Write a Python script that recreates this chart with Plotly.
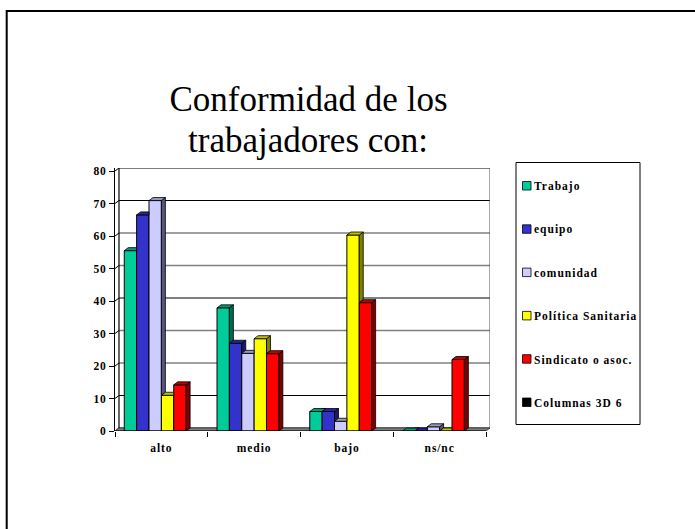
import plotly.graph_objects as go

categories = ["alto", "medio", "bajo", "ns/nc"]
names = ["Trabajo", "equipo", "comunidad", "Política Sanitaria", "Sindicato o asoc.", "Columnas 3D 6"]
trabajo = [55.5, 37.9, 6, 0]
equipo = [66.5, 27, 6, 0]
comunidad = [70.9, 23.9, 3, 1.3]
politica = [11, 28.4, 60.3, 0]
sindicato = [14.2, 23.8, 39.5, 22]
columnas = [None, None, None, None]
series = [trabajo, equipo, comunidad, politica, sindicato, columnas]
title_line_1 = "Conformidad de los"
title_line_2 = "trabajadores con:"
y_ticks = [0, 10, 20, 30, 40, 50, 60, 70, 80]

front = ["#00CC99", "#3333CC", "#CCCCFF", "#FFFF00", "#FF0000", "#000000"]
top = ["#009973", "#262699", "#9999BF", "#BFBF00", "#BF0000", "#000000"]
side = ["#006B50", "#1A1A66", "#555580", "#808000", "#800000", "#000000"]
grid_col = ["#000000", "#000000", "#808080", "#808080", "#000000", "#808080", "#808080", "#000000", "#000000"]

W, H = 695, 529
L, R, T, B = 115, 490, 168, 431
PX_Y = 3.25
PX_X = 92.75
DX, DY = 4 / PX_X, 3 / PX_Y
X0, X1 = -0.5, 3.5
BARGAP = 0.2
N = len(series)
BW = (1 - BARGAP) / N


def px(x, y):
    return dict(xref="paper", yref="paper", x=(x - L) / (R - L), y=(B - y) / (B - T))


def paper_rect(x0, y0, x1, y1, **kw):
    return dict(type="rect", xref="paper", yref="paper",
                x0=(x0 - L) / (R - L), x1=(x1 - L) / (R - L),
                y0=(B - y0) / (B - T), y1=(B - y1) / (B - T), **kw)


def poly(xs, ys, fill):
    return go.Scatter(x=xs + xs[:1], y=ys + ys[:1], mode="lines", fill="toself", fillcolor=fill,
                      line=dict(color="#000000", width=0.8), hoverinfo="skip",
                      showlegend=False, cliponaxis=False)


fig = go.Figure()

# 3D box: walls, floor and gridlines sit under the bars
shapes = []
for v, c in zip(y_ticks, grid_col):
    shapes.append(dict(type="line", xref="x", yref="y", layer="below",
                       x0=X0 + DX, x1=X1 + DX, y0=v + DY, y1=v + DY,
                       line=dict(color=c, width=1.4 if c != "#000000" else 1)))
    shapes.append(dict(type="line", xref="x", yref="y", layer="below",
                       x0=X0, x1=X0 + DX, y0=v, y1=v + DY,
                       line=dict(color="#000000", width=1)))
shapes.append(dict(type="path", xref="x", yref="y", layer="below",
                   path=f"M{X0},0 L{X0 + DX},{DY} L{X1 + DX},{DY} L{X1},0 Z",
                   fillcolor="#808080", line=dict(color="#333333", width=0.8)))
shapes.append(dict(type="line", xref="x", yref="y", layer="below",
                   x0=X0 + DX, x1=X0 + DX, y0=DY, y1=80 + DY, line=dict(color="#000000", width=1.2)))
shapes.append(dict(type="line", xref="x", yref="y", layer="below",
                   x0=X1 + DX, x1=X1 + DX, y0=DY, y1=80 + DY, line=dict(color="#555555", width=1)))

# Front faces
for name, vals, col in zip(names, series, front):
    fig.add_trace(go.Bar(x=list(range(len(categories))), y=vals, name=name, marker_color=col,
                         marker_line=dict(color="#000000", width=1), showlegend=False))

# Side and top faces, in painter's order
for s, vals in enumerate(series[:-1]):
    nxt = series[s + 1]
    for c, v in enumerate(vals):
        left = c - 0.5 + BARGAP / 2 + s * BW
        right = left + BW
        n = nxt[c] if nxt[c] is not None else 0
        if n < v + DY:
            low = max(n, 0)
            if low < v:
                fig.add_trace(poly([right, right + DX, right + DX, right],
                                   [v, v + DY, low + DY if low > 0 else DY, low], side[s]))
            else:
                fig.add_trace(poly([right, right + DX, right], [v, v + DY, v + DY], side[s]))
            fig.add_trace(poly([left, left + DX, right + DX, right], [v, v + DY, v + DY, v], top[s]))
        else:
            fig.add_trace(poly([left, left + DX, right, right], [v, v + DY, v + DY, v], top[s]))

# Outer frame and legend box built from the same series names and colours
shapes.append(paper_rect(6.7, 11, W + 20, H + 20, line=dict(color="#000000", width=2), layer="below"))
shapes.append(paper_rect(516, 162.5, 640, 424.5, line=dict(color="#000000", width=1), fillcolor="#FFFFFF"))
annotations = []
LEG_Y0, LEG_STEP = 185.5, 43.3
for i, (name, col) in enumerate(zip(names, front)):
    yc = LEG_Y0 + i * LEG_STEP
    shapes.append(paper_rect(522.5, yc - 4, 531, yc + 4.5, fillcolor=col, line=dict(color="#000000", width=0.8)))
    annotations.append(dict(text=f"<b>{name}</b>", showarrow=False, xanchor="left", yanchor="middle", align="left",
                            font=dict(family="Liberation Serif", size=11.5, color="#000000"),
                            **px(532, yc + 1)))
annotations.append(dict(text=title_line_2, showarrow=False, xanchor="center", yanchor="middle",
                        font=dict(family="Liberation Serif", size=35, color="#000000"),
                        **px(308, 140)))

fig.update_layout(
    width=W, height=H, autosize=False,
    margin=dict(l=L, r=W - R, t=T, b=H - B, pad=0),
    paper_bgcolor="#FFFFFF", plot_bgcolor="#FFFFFF",
    barmode="group", bargap=BARGAP, bargroupgap=0,
    showlegend=False,
    title=dict(text=title_line_1, x=308.5 / W, xanchor="center",
               y=1 - 99 / H, yanchor="middle",
               font=dict(family="Liberation Serif", size=35, color="#000000")),
    font=dict(family="Liberation Serif", color="#000000"),
    shapes=shapes, annotations=annotations,
    xaxis=dict(type="linear", range=[X0, X1 + DX], tickmode="array", tickvals=list(range(4)),
               ticktext=[f"<b>{c}</b>" for c in categories], ticks="", showgrid=False, zeroline=False,
               showline=False, ticklabelstandoff=8,
               minor=dict(tickmode="array", tickvals=[X0 + b for b in range(5)], ticks="outside",
                          ticklen=5, tickwidth=1, tickcolor="#000000", showgrid=False),
               tickfont=dict(size=11.5, family="Liberation Serif"), fixedrange=True),
    yaxis=dict(range=[0, (B - T) / PX_Y], tickmode="array", tickvals=y_ticks,
               ticktext=[f"<b>{v}</b>" for v in y_ticks], ticks="outside", ticklen=5, tickwidth=1,
               tickcolor="#000000", showgrid=False, zeroline=False, showline=True,
               linecolor="#000000", linewidth=1, tickfont=dict(size=11.5, family="Liberation Serif")),
)
# Front edge of the floor
fig.add_trace(go.Scatter(x=[X0, X1], y=[0, 0], mode="lines", line=dict(color="#000000", width=1),
                         hoverinfo="skip", showlegend=False, cliponaxis=False))

page_setup = """
document.body.style.margin = '0';
document.querySelectorAll('.xtick text, .ytick text').forEach(function (t) {
  t.style.letterSpacing = '0.9px';
});
document.querySelectorAll('.annotation-text').forEach(function (t) {
  if (parseFloat(t.style.fontSize) < 20) { t.style.letterSpacing = '1px'; }
});
"""
fig.write_html("out.html", post_script=page_setup, config={"displayModeBar": False})
